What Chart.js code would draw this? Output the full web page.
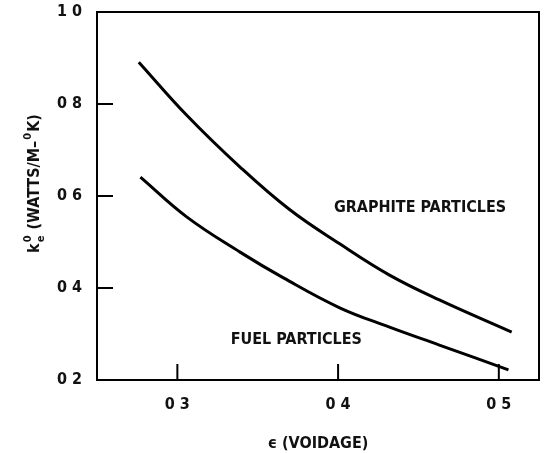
<!DOCTYPE html>
<html>
<head>
<meta charset="utf-8">
<script src="https://cdn.jsdelivr.net/npm/chart.js@4.4.1/dist/chart.umd.min.js"></script>
<style>
  html, body { margin: 0; padding: 0; background: #fff; }
  #wrap { width: 544px; height: 453px; position: relative; }
</style>
</head>
<body>
<div id="wrap"><canvas id="chart" width="544" height="453"></canvas></div>
<script>
// values
const voidage = [0.276, 0.306, 0.339, 0.370, 0.401, 0.432, 0.463, 0.508];
const graphiteK = [0.891, 0.775, 0.663, 0.570, 0.496, 0.428, 0.374, 0.304];

const fuelVoidage = [0.277, 0.306, 0.339, 0.366, 0.401, 0.432, 0.463, 0.506];
const fuelK = [0.641, 0.554, 0.478, 0.422, 0.357, 0.315, 0.276, 0.222];

const xTicks = [0.3, 0.4, 0.5];
const yTicks = [0.4, 0.6, 0.8];

const curveLabels = [
    { text: 'GRAPHITE PARTICLES', x: 0.451, y: 0.574 },
    { text: 'FUEL PARTICLES', x: 0.374, y: 0.287 }
];

const FONT = "'Liberation Sans Narrow', 'DejaVu Sans Condensed', 'Liberation Sans', sans-serif";

const fmt = v => v.toFixed(1).replace('.', ' ');

// box + inward tick marks + curve names + y title
const decorations = {
    id: 'decorations',
    afterDraw(chart) {
        const { ctx, chartArea: a, scales } = chart;
        const x = scales.x, y = scales.y;
        ctx.save();
        ctx.strokeStyle = '#000';
        ctx.lineWidth = 2;
        ctx.strokeRect(a.left, a.top, a.right - a.left, a.bottom - a.top);

        ctx.beginPath();
        xTicks.forEach(v => {
            const px = x.getPixelForValue(v);
            ctx.moveTo(px, a.bottom);
            ctx.lineTo(px, a.bottom - 16);
        });
        yTicks.forEach(v => {
            const py = y.getPixelForValue(v);
            ctx.moveTo(a.left, py);
            ctx.lineTo(a.left + 16, py);
        });
        ctx.stroke();

        ctx.fillStyle = '#111';
        ctx.font = 'bold 16px ' + FONT;
        ctx.textAlign = 'center';
        ctx.textBaseline = 'middle';
        curveLabels.forEach(l => {
            ctx.fillText(l.text, x.getPixelForValue(l.x), y.getPixelForValue(l.y));
        });

        // rotated y title with super/subscripts
        const big = 'bold 16px ' + FONT, small = 'bold 11px ' + FONT;
        const parts = [
            { t: 'k', f: big, dy: 0 },
            { t: '0', f: small, dy: -8, stack: 'e' },
            { t: ' (WATTS/M\u2013', f: big, dy: 0 },
            { t: '0', f: small, dy: -8 },
            { t: 'K)', f: big, dy: 0 }
        ];
        let total = 0;
        parts.forEach(p => {
            ctx.font = p.f;
            p.w = ctx.measureText(p.t).width + 1;
            total += p.w;
        });
        ctx.translate(33, (a.top + a.bottom) / 2 - 13);
        ctx.rotate(-Math.PI / 2);
        ctx.textAlign = 'left';
        ctx.textBaseline = 'alphabetic';
        let cx = -total / 2;
        parts.forEach(p => {
            ctx.font = p.f;
            ctx.fillText(p.t, cx, 6 + p.dy);
            if (p.stack) ctx.fillText(p.stack, cx, 11);
            cx += p.w;
        });
        ctx.restore();
    }
};

new Chart(document.getElementById('chart'), {
    type: 'scatter',
    data: {
        datasets: [
            {
                label: 'Graphite particles',
                data: voidage.map((v, i) => ({ x: v, y: graphiteK[i] })),
                showLine: true,
                borderColor: '#000',
                borderWidth: 3,
                pointRadius: 0,
                tension: 0.4
            },
            {
                label: 'Fuel particles',
                data: fuelVoidage.map((v, i) => ({ x: v, y: fuelK[i] })),
                showLine: true,
                borderColor: '#000',
                borderWidth: 3,
                pointRadius: 0,
                tension: 0.4
            }
        ]
    },
    options: {
        responsive: false,
        animation: false,
        layout: { padding: { left: 0, right: 5, top: 12, bottom: 0 } },
        plugins: { legend: { display: false }, tooltip: { enabled: false } },
        scales: {
            x: {
                type: 'linear',
                min: 0.25,
                max: 0.525,
                afterBuildTicks: s => { s.ticks = xTicks.map(v => ({ value: v })); },
                afterFit: s => { s.height = 73; s.paddingLeft = 0; s.paddingRight = 0; },
                grid: { display: false, drawTicks: false },
                border: { display: false },
                ticks: {
                    padding: 15,
                    color: '#111',
                    font: { family: FONT, size: 16, weight: 'bold' },
                    callback: fmt
                },
                title: {
                    display: true,
                    text: '\u03f5 (VOIDAGE)',
                    color: '#111',
                    font: { family: FONT, size: 16, weight: 'bold' },
                    padding: { top: 11, bottom: 0 }
                }
            },
            y: {
                min: 0.2,
                max: 1.0,
                afterBuildTicks: s => { s.ticks = [0.2, 0.4, 0.6, 0.8, 1.0].map(v => ({ value: v })); },
                afterFit: s => { s.width = 97; s.paddingTop = 0; s.paddingBottom = 0; },
                grid: { display: false, drawTicks: false },
                border: { display: false },
                ticks: {
                    padding: 15,
                    color: '#111',
                    font: { family: FONT, size: 16, weight: 'bold' },
                    callback: fmt
                }
            }
        }
    },
    plugins: [decorations]
});
</script>
</body>
</html>
